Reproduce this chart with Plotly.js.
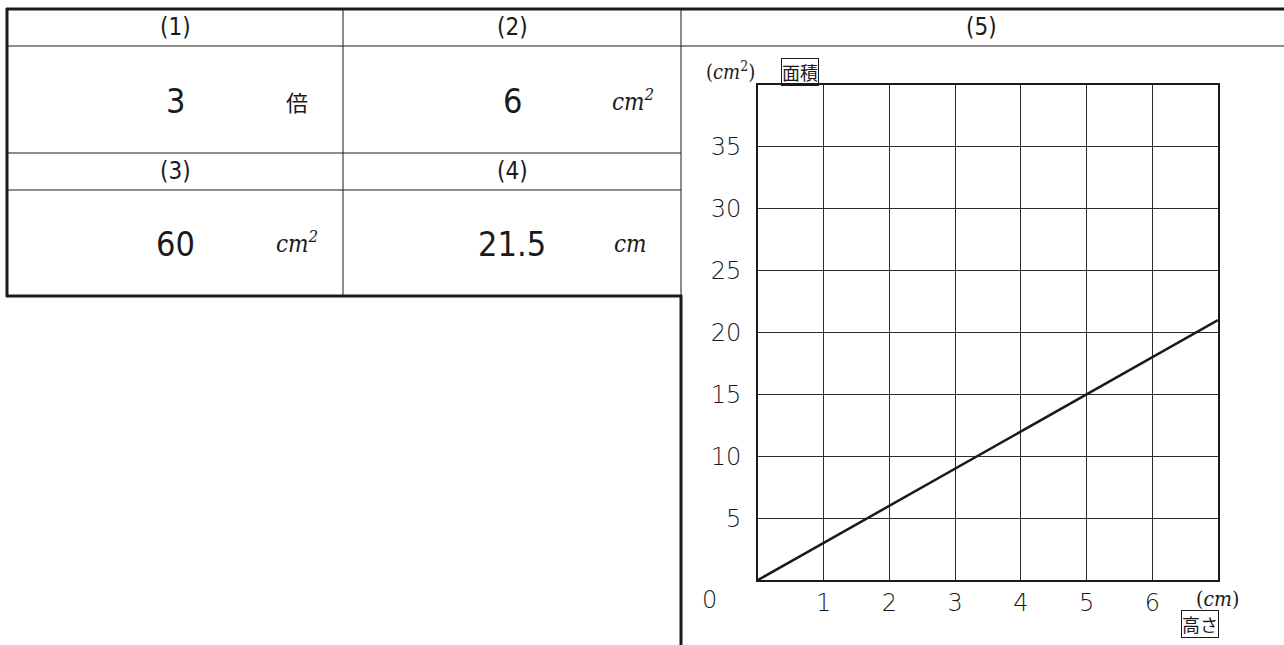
<!DOCTYPE html>
<html>
<head>
<meta charset="utf-8">
<script src="https://cdn.plot.ly/plotly-3.0.1.min.js"></script>
<style>html,body{margin:0;padding:0;background:#fff;}#chart{width:1284px;height:645px;}</style>
</head>
<body>
<div id="chart"></div>
<script>
// ---- data ----
const heightCm = [0, 1, 2, 3, 4, 5, 6, 7];
const areaCm2 = [0, 3, 6, 9, 12, 15, 18, 21];
const xTickVals = [1, 2, 3, 4, 5, 6];
const xTickText = ['1', '2', '3', '4', '5', '6'];
const yTickVals = [5, 10, 15, 20, 25, 30, 35];
const yTickText = ['5', '10', '15', '20', '25', '30', '35'];
const headers = ['(1)', '(2)', '(3)', '(4)', '(5)'];
const answers = ['3', '6', '60', '21.5'];
const units = ['倍', 'cm<sup>2</sup>', 'cm<sup>2</sup>', 'cm'];

// ---- geometry (pixels) ----
const W = 1284, H = 645;
const L = 758, R = 1218, T = 85, B = 580;
function px(x) { return (x - L) / (R - L); }
function py(y) { return (B - y) / (B - T); }
function line(x0, y0, x1, y1, w) {
  return {type: 'line', xref: 'paper', yref: 'paper', x0: px(x0), y0: py(y0), x1: px(x1), y1: py(y1),
    line: {color: '#1a1a1a', width: w}};
}
const shapes = [
  line(6, 9, 1284, 9, 3),
  line(6, 46, 1284, 46, 1),
  line(7, 8, 7, 297, 3),
  line(6, 296, 682, 296, 3),
  line(343, 9, 343, 296, 1),
  line(681, 9, 681, 296, 1),
  line(681, 295, 681, 645, 3),
  line(6, 153, 681, 153, 1),
  line(6, 190, 681, 190, 1)
];
const narrow = 'DejaVu Sans Condensed, Liberation Sans Narrow, sans-serif';
const italicF = {family: 'DejaVu Serif Condensed, Liberation Serif, serif', size: 24, color: '#1a1a1a', style: 'italic'};
function ann(text, x, y, font, extra) {
  return Object.assign({text: text, xref: 'paper', yref: 'paper', x: px(x), y: py(y),
    xanchor: 'center', yanchor: 'middle', showarrow: false, font: font}, extra || {});
}
const hdrFont = {family: narrow, size: 24, color: '#1a1a1a'};
const numFont = {family: narrow, size: 34, color: '#1a1a1a'};
const cjkFont = {family: 'Noto Sans CJK JP, sans-serif', size: 22, color: '#1a1a1a'};
const tickFont = {family: 'DejaVu Sans ExtraLight, DejaVu Sans Light, DejaVu Sans, sans-serif', size: 24, color: '#1a1a1a'};
const annotations = [
  ann(headers[0], 175, 27, hdrFont),
  ann(headers[1], 512, 27, hdrFont),
  ann(headers[2], 175, 171, hdrFont),
  ann(headers[3], 512, 171, hdrFont),
  ann(headers[4], 981, 27, hdrFont),
  ann(answers[0], 175, 101, numFont),
  ann(units[0], 297, 101, cjkFont),
  ann(answers[1], 512, 101, numFont),
  ann(units[1], 633, 100, italicF),
  ann(answers[2], 175, 244, numFont),
  ann(units[2], 297, 242, italicF),
  ann(answers[3], 512, 244, numFont),
  ann(units[3], 630, 244, italicF),
  ann('0', 709, 600, tickFont),
  ann('(<i>cm</i><sup>2</sup>)', 730, 71, {family: 'DejaVu Serif Condensed, Liberation Serif, serif', size: 20, color: '#1a1a1a'}),
  ann('面積', 800, 72, {family: 'Noto Sans CJK JP, sans-serif', size: 18, color: '#1a1a1a'},
      {bordercolor: '#1a1a1a', borderwidth: 1, borderpad: 0}),
  ann('(<i>cm</i>)', 1217, 599, {family: 'DejaVu Serif Condensed, Liberation Serif, serif', size: 21, color: '#1a1a1a'}),
  ann('高さ', 1200, 624, {family: 'Noto Sans CJK JP, sans-serif', size: 18, color: '#1a1a1a'},
      {bordercolor: '#1a1a1a', borderwidth: 1, borderpad: 0})
];

const trace = {x: heightCm, y: areaCm2, type: 'scatter', mode: 'lines',
  line: {color: '#1a1a1a', width: 2.5}, hoverinfo: 'skip'};

const layout = {
  width: W, height: H,
  margin: {l: L, r: W - R, t: T, b: H - B, pad: 0},
  paper_bgcolor: '#fff', plot_bgcolor: '#fff',
  showlegend: false,
  xaxis: {range: [0, 7], tickvals: xTickVals, ticktext: xTickText, showgrid: true, gridcolor: '#2a2a2a', gridwidth: 1,
    zeroline: false, showline: true, mirror: true, linecolor: '#1a1a1a', linewidth: 2,
    ticks: '', tickfont: tickFont, fixedrange: true},
  yaxis: {range: [0, 40], tickvals: yTickVals, ticktext: yTickText, showgrid: true, gridcolor: '#2a2a2a', gridwidth: 1,
    zeroline: false, showline: true, mirror: true, linecolor: '#1a1a1a', linewidth: 2,
    ticks: 'outside', ticklen: 10, tickcolor: 'rgba(0,0,0,0)', tickfont: tickFont, fixedrange: true},
  shapes: shapes,
  annotations: annotations
};
Plotly.newPlot('chart', [trace], layout, {staticPlot: true, displayModeBar: false});
</script>
</body>
</html>
